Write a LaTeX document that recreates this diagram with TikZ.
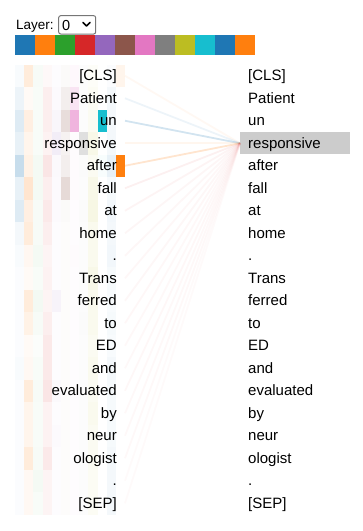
\documentclass[tikz,border=0pt]{standalone}
\usepackage{fontspec}
\setmainfont{Liberation Sans}
\definecolor{h0}{HTML}{1F77B4}
\definecolor{h1}{HTML}{FF7F0E}
\definecolor{h2}{HTML}{2CA02C}
\definecolor{h3}{HTML}{D62728}
\definecolor{h4}{HTML}{9467BD}
\definecolor{h5}{HTML}{8C564B}
\definecolor{h6}{HTML}{E377C2}
\definecolor{h7}{HTML}{7F7F7F}
\definecolor{h8}{HTML}{BCBD22}
\definecolor{h9}{HTML}{17BECF}
\definecolor{h10}{HTML}{1F77B4}
\definecolor{h11}{HTML}{FF7F0E}
\definecolor{hl}{HTML}{CCCCCC}
\definecolor{selborder}{HTML}{767676}
\begin{document}
\begin{tikzpicture}[x=1pt,y=-1pt,
  tok/.style={font=\fontsize{15}{18}\selectfont, inner sep=0pt},
  lefttok/.style={tok, anchor=base east},
  righttok/.style={tok, anchor=base west},
  attn/.style={line width=1.8pt},
  cell/.style={draw=none}]
\useasboundingbox (0,0) rectangle (363,531);
% header
\node[anchor=base west, inner sep=0pt, font=\fontsize{13.5}{16}\selectfont] (layerlbl) at (16,29.3) {Layer:};
\draw[selborder, rounded corners=2pt, line width=1pt] (58.7,15.7) rectangle (95.7,34);
\node[anchor=base west, inner sep=0pt, font=\fontsize{14.5}{16}\selectfont] (layerval) at (62,30) {0};
\draw[black, line width=1.6pt, line cap=round, line join=round] (83,22.5) -- (86.5,26) -- (90,22.5);
\foreach \i in {0,...,11} {
  \fill[h\i] (15+20*\i,34.7) rectangle (35+20*\i,55);
}
% highlight box
\fill[hl] (240,132) rectangle (350,154);
% heatmap cells
\foreach \r/\vals in {
 0/{0.03,0.15,0.04,0.03,0.02,0.03,0.05,0.02,0.03,0,0.02,0.08},
 1/{0.08,0.04,0.03,0.08,0.03,0.10,0.20,0.02,0.05,0,0.05,0},
 2/{0.15,0.12,0.03,0.08,0.06,0.20,0.55,0.02,0.06,1.0,0.05,0},
 3/{0.10,0.08,0.03,0.06,0.12,0.08,0.03,0.25,0.10,0,0.05,0},
 4/{0.25,0.10,0.05,0.12,0.04,0.10,0.03,0.03,0.06,0.03,0.10,1.0},
 5/{0.10,0.20,0.05,0.08,0.03,0.22,0.03,0.02,0.10,0,0.04,0},
 6/{0.15,0.12,0.04,0.10,0.03,0.03,0.02,0.03,0.12,0,0.06,0},
 7/{0.05,0.15,0.04,0.08,0.02,0.02,0.02,0.02,0.08,0,0.05,0},
 8/{0.03,0.06,0.05,0.05,0.02,0.02,0.03,0.02,0.08,0,0.06,0},
 9/{0.02,0.04,0.03,0.06,0.02,0.02,0.02,0.02,0.10,0,0.04,0},
 10/{0.02,0.15,0.06,0.05,0.08,0.02,0.02,0.02,0.08,0,0.03,0},
 11/{0.02,0.10,0.04,0.08,0.02,0.02,0.02,0.03,0.08,0,0.04,0},
 12/{0.02,0.04,0.02,0.10,0.02,0.02,0.02,0.02,0.06,0,0.03,0},
 13/{0.03,0.05,0.03,0.10,0.02,0.02,0.02,0.02,0.08,0,0.05,0},
 14/{0.02,0.15,0.04,0.12,0.04,0.02,0.02,0.02,0.06,0,0.04,0},
 15/{0.02,0.08,0.03,0.06,0.02,0.02,0.02,0.02,0.08,0,0.04,0},
 16/{0.02,0.08,0.03,0.06,0.03,0.02,0.02,0.02,0.06,0,0.04,0},
 17/{0.02,0.15,0.04,0.10,0.02,0.02,0.02,0.02,0.06,0,0.05,0},
 18/{0.02,0.05,0.05,0.05,0.02,0.02,0.02,0.02,0.05,0,0.05,0},
 19/{0.02,0.05,0.03,0.05,0.02,0.02,0.02,0.02,0.05,0,0.05,0}} {
  \foreach \v [count=\c from 0] in \vals {
    \fill[h\c, fill opacity=\v] (15+9.1667*\c,64.5+22.5*\r) rectangle (24.1667+9.1667*\c,87+22.5*\r);
  }
}
% tokens
\foreach \i/\t in {0/[CLS],1/Patient,2/un,3/responsive,4/after,5/fall,6/at,7/home,8/.,9/Trans,10/ferred,11/to,12/ED,13/and,14/evaluated,15/by,16/neur,17/ologist,18/.,19/[SEP]} {
  \node[lefttok] (l\i) at (117,80.75+22.5*\i) {\t};
  \node[righttok] (r\i) at (248,80.75+22.5*\i) {\t};
  \coordinate (s\i) at (125,75.75+22.5*\i);
}
\coordinate (tgt) at (240,143.25);
% attention lines
\foreach \i/\col/\op in {0/h1/0.05,1/h0/0.08,2/h0/0.2,3/h1/0.07,4/h1/0.2,5/h3/0.07,6/h3/0.05,7/h3/0.045,8/h3/0.04,9/h3/0.035,10/h3/0.04,11/h3/0.035,12/h3/0.03,13/h3/0.03,14/h3/0.035,15/h3/0.03,16/h3/0.03,17/h3/0.03,18/h3/0.025,19/h3/0.025} {
  \draw[attn, draw=\col, draw opacity=\op] (s\i) -- (tgt);
}
\end{tikzpicture}
\end{document}
